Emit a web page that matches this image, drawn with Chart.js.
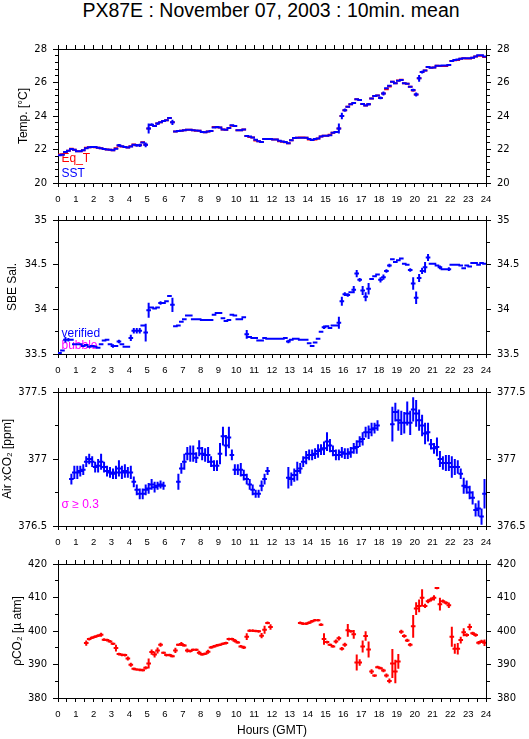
<!DOCTYPE html>
<html>
<head>
<meta charset="utf-8">
<title>PX87E : November 07, 2003 : 10min. mean</title>
<script src="https://cdn.jsdelivr.net/npm/chart.js@4.4.0/dist/chart.umd.min.js"></script>
<style>
  html, body { margin: 0; padding: 0; background: #fff; }
  #page { position: relative; width: 529px; height: 739px; overflow: hidden; }
  #title { position: absolute; left: 0; top: 0; width: 542px; text-align: center;
           font: 19.5px/20px 'Liberation Sans', Arial, sans-serif; color: #000; }
  canvas { position: absolute; left: 0; }
</style>
</head>
<body>
<div id="page">
  <div id="title">PX87E : November 07, 2003 : 10min. mean</div>
  <canvas id="temp" width="529" height="168" style="top:37px"></canvas>
  <canvas id="sal" width="529" height="168" style="top:208px"></canvas>
  <canvas id="xco2" width="529" height="168" style="top:380px"></canvas>
  <canvas id="pco2" width="529" height="186" style="top:552px"></canvas>
</div>
<script>
// 10-minute bin centres, hours (GMT)
const hours = Array.from({ length: 144 }, (_, i) => (i + 0.5) / 6);

// Temperature [°C]
const sst = [
  21.66, 21.68, 21.85, 21.92, 22.03, 21.98, 21.90, 21.90, 21.95, 22.08, 22.13, 22.15,
  22.15, 22.10, 22.07, 22.03, 22.00, 21.98, 21.95, 22.05, 22.25, 22.20, 22.15, 22.12,
  22.18, 22.28, 22.25, 22.25, 22.42, 22.28, 23.25, 23.48, 23.40, 23.55, 23.62, 23.70,
  23.74, 23.88, 23.62, 23.08, 23.10, 23.12, 23.15, 23.18, 23.18, 23.15, 23.14, 23.12,
  23.05, 23.03, 23.07, 23.10, 23.32, 23.35, 23.32, 23.20, 23.18, 23.28, 23.45, 23.40,
  23.15, 23.15, 23.20, 22.80, 22.78, 22.72, 22.58, 22.50, 22.45, 22.62, 22.62, 22.62,
  22.60, 22.60, 22.52, 22.48, 22.45, 22.38, 22.55, 22.68, 22.70, 22.70, 22.70, 22.70,
  22.62, 22.57, 22.62, 22.65, 22.78, 22.82, 22.82, 22.85, 23.00, 23.05, 23.25, 24.00,
  24.35, 24.55, 24.70, 24.78, 25.00, 24.95, 24.72, 24.62, 24.70, 25.05, 25.20, 25.22,
  25.08, 25.35, 25.65, 25.80, 26.05, 25.95, 26.10, 26.15, 25.95, 25.92, 25.75, 25.55,
  25.28, 26.25, 26.62, 26.72, 26.93, 26.88, 26.90, 27.00, 27.00, 27.02, 27.02, 27.05,
  27.28, 27.35, 27.38, 27.42, 27.45, 27.45, 27.45, 27.48, 27.55, 27.62, 27.62, 27.55
];
const sstErr = [
  .05, .05, .06, .05, .06, .05, .05, .05, .05, .06, .05, .05,
  .05, .05, .05, .05, .05, .05, .05, .06, .08, .05, .05, .05,
  .06, .05, .08, .10, .06, .14, .30, .08, .06, .08, .06, .06,
  .05, .04, .15, .06, .05, .05, .05, .05, .05, .05, .05, .05,
  .05, .05, .05, .05, .05, .05, .05, .05, .05, .06, .05, .05,
  .06, .06, .05, .06, .05, .06, .05, .05, .05, .05, .05, .05,
  .05, .05, .05, .05, .05, .06, .05, .05, .05, .05, .05, .05,
  .05, .06, .05, .05, .05, .05, .05, .05, .06, .06, .30, .20,
  .10, .06, .06, .05, .06, .05, .06, .06, .08, .06, .05, .05,
  .08, .12, .06, .06, .06, .05, .05, .05, .05, .05, .06, .08,
  .12, .20, .08, .06, .05, .05, .05, .05, .05, .05, .05, .05,
  .06, .05, .05, .05, .05, .05, .05, .05, .05, .05, .05, .05
];
const eqT = [
  21.70, 21.72, 21.85, 21.92, 22.05, 21.98, 21.90, 21.90, 21.95, 22.10, 22.13, 22.15,
  22.13, 22.10, 22.07, 22.03, 22.00, 21.98, 21.95, 22.08, 22.22, 22.18, 22.15, 22.12,
  22.20, 22.30, 22.25, 22.25, 22.44, 22.28, 23.25, 23.46, 23.40, 23.55, 23.62, 23.70,
  23.74, 23.88, 23.62, 23.08, 23.10, 23.12, 23.15, 23.18, 23.18, 23.15, 23.12, 23.12,
  23.05, 23.03, 23.07, 23.10, 23.34, 23.33, 23.32, 23.20, 23.18, 23.28, 23.42, 23.40,
  23.15, 23.15, 23.20, 22.80, 22.75, 22.72, 22.54, 22.50, 22.45, 22.62, 22.62, 22.62,
  22.60, 22.60, 22.50, 22.46, 22.43, 22.38, 22.55, 22.68, 22.70, 22.72, 22.72, 22.70,
  22.60, 22.57, 22.60, 22.65, 22.78, 22.82, 22.82, 22.88, 23.00, 23.05, 23.25, 24.00,
  24.35, 24.55, 24.70, 24.78, 25.00, 24.95, 24.72, 24.62, 24.70, 25.05, 25.20, 25.22,
  25.08, 25.35, 25.60, 25.76, 26.05, 25.95, 26.12, 26.17, 25.95, 25.92, 25.75, 25.52,
  25.28, 26.25, 26.62, 26.72, 26.93, 26.88, 26.90, 27.00, 26.98, 26.98, 26.98, 27.05,
  27.28, 27.33, 27.35, 27.42, 27.45, 27.43, 27.43, 27.48, 27.55, 27.60, 27.60, 27.52
];

// SBE salinity
const sal = [
  33.51, 33.54, 33.66, 33.66, 33.66, 33.61, 33.61, 33.61, 33.59, 33.60, 33.58, 33.59,
  33.58, 33.57, 33.61, 33.65, 33.66, 33.61, 33.59, 33.59, 33.64, 33.61, 33.58, 33.58,
  33.68, 33.76, 33.76, 33.76, 33.82, 33.74, 33.99, 34.02, 34.01, 34.02, 34.07, 34.07,
  34.09, 34.15, 34.05, 33.81, 33.82, 33.86, 33.89, 33.93, 33.93, 33.89, 33.89, 33.89,
  33.88, 33.88, 33.88, 33.88, 33.94, 33.96, 33.96, 33.90, 33.87, 33.88, 33.94, 33.93,
  33.89, 33.89, 33.91, 33.72, 33.69, 33.68, 33.68, 33.65, 33.65, 33.68, 33.67, 33.67,
  33.67, 33.67, 33.67, 33.67, 33.68, 33.64, 33.66, 33.67, 33.67, 33.66, 33.66, 33.66,
  33.62, 33.59, 33.63, 33.67, 33.75, 33.80, 33.81, 33.79, 33.82, 33.82, 33.85, 34.09,
  34.17, 34.16, 34.19, 34.22, 34.40, 34.33, 34.21, 34.14, 34.23, 34.34, 34.37, 34.39,
  34.33, 34.36, 34.43, 34.49, 34.56, 34.53, 34.55, 34.57, 34.51, 34.50, 34.44, 34.29,
  34.13, 34.35, 34.43, 34.47, 34.58, 34.51, 34.51, 34.49, 34.47, 34.45, 34.45, 34.45,
  34.50, 34.50, 34.50, 34.49, 34.46, 34.49, 34.48, 34.52, 34.52, 34.50, 34.52, 34.51
];
const salErr = [
  .01, .01, .03, .02, .01, .01, .01, .01, .01, .01, .01, .01,
  .01, .01, .01, .01, .01, .01, .02, .01, .02, .01, .01, .01,
  .035, .03, .03, .03, .01, .10, .085, .01, .01, .01, .02, .01,
  .01, .01, .08, .01, .01, .01, .01, .01, .01, .01, .01, .01,
  .01, .01, .01, .01, .01, .01, .01, .01, .01, .01, .01, .01,
  .01, .01, .01, .05, .01, .01, .01, .01, .01, .01, .01, .01,
  .01, .01, .01, .01, .01, .02, .01, .01, .01, .01, .01, .01,
  .01, .01, .01, .01, .01, .02, .01, .01, .01, .01, .067, .05,
  .02, .02, .01, .04, .04, .02, .05, .05, .065, .01, .01, .01,
  .03, .03, .02, .02, .01, .01, .01, .01, .01, .01, .02, .07,
  .07, .045, .035, .06, .04, .01, .01, .01, .02, .01, .01, .02,
  .01, .01, .01, .01, .01, .01, .01, .01, .01, .01, .01, .01
];

// Air xCO2 [ppm]
const xco2 = [
  null, null, null, null, 376.85, 376.90, 376.90, 376.91, 376.92, 376.98, 377.00, 376.98,
  376.94, 376.95, 376.98, 376.94, 376.91, 376.90, 376.89, 376.90, 376.93, 376.90, 376.91, 376.90,
  376.90, 376.83, 376.77, 376.74, 376.74, 376.77, 376.78, 376.81, 376.79, 376.80, 376.81, 376.80,
  null, null, null, null, 376.83, 376.93, 376.98, 377.04, 377.04, 377.04, 377.01, 377.08,
  377.04, 377.03, 377.03, 376.98, 376.95, 376.95, 377.04, 377.17, 377.10, 377.16, 377.03, 376.92,
  376.92, 376.92, 376.88, 376.85, 376.81, 376.77, 376.74, 376.74, 376.80, 376.85, 376.91, null,
  null, null, null, null, null, 376.86, 376.85, 376.88, 376.91, 376.93, 376.98, 377.01,
  377.03, 377.03, 377.04, 377.06, 377.07, 377.08, 377.13, 377.10, 377.06, 377.03, 377.03, 377.05,
  377.04, 377.04, 377.05, 377.08, 377.09, 377.13, 377.15, 377.20, 377.20, 377.22, 377.23, 377.25,
  null, null, null, null, 377.26, 377.35, 377.29, 377.27, 377.27, 377.34, 377.27, 377.37,
  377.34, 377.29, 377.25, 377.19, 377.20, 377.11, 377.08, 377.09, 377.00, 376.97, 376.97, 376.97,
  376.94, 376.94, 376.94, 376.89, 376.80, 376.79, 376.75, 376.71, 376.62, 376.63, 376.57, 376.74
];
const xco2Err = [
  0, 0, 0, 0, .04, .05, .05, .04, .04, .04, .04, .04,
  .04, .05, .06, .04, .04, .04, .04, .05, .06, .05, .05, .04,
  .05, .04, .04, .04, .04, .04, .04, .04, .04, .03, .03, .03,
  0, 0, 0, 0, .06, .04, .06, .05, .06, .06, .04, .06,
  .05, .05, .06, .04, .04, .04, .08, .07, .08, .08, .04, .04,
  .04, .05, .04, .04, .04, .04, .03, .03, .04, .04, .03, 0,
  0, 0, 0, 0, 0, .08, .05, .05, .07, .04, .04, .05,
  .04, .04, .04, .05, .04, .05, .07, .05, .04, .04, .04, .04,
  .04, .04, .04, .04, .05, .04, .05, .04, .05, .05, .04, .04,
  0, 0, 0, 0, .13, .07, .08, .09, .08, .09, .09, .09,
  .10, .08, .08, .08, .07, .04, .04, .07, .06, .05, .06, .06,
  .08, .06, .05, .04, .06, .05, .05, .05, .05, .06, .06, .11
];

// pCO2 [µatm]
const pco2 = [
  null, null, null, null, null, null, null, null, null, 396.4, 397.6, 398.0,
  398.3, 398.6, 398.9, 397.4, 397.3, 396.9, 396.2, 394.9, 393.1, 392.9, 392.8, 391.8,
  389.9, 388.7, 388.5, 388.4, 388.3, 389.0, 390.3, 393.7, 393.0, 394.2, 395.9, 393.5,
  392.8, 392.8, 392.5, 394.2, 395.9, 396.1, 395.7, 394.2, 394.0, 394.4, 394.4, 393.5,
  393.0, 393.2, 393.8, 395.1, 395.4, 395.7, 395.9, 396.2, 396.4, 397.6, 397.6, 397.1,
  396.6, 395.4, 395.1, 398.3, 400.1, 400.1, 400.0, 399.9, 398.6, 400.4, 402.4, 401.2,
  null, null, null, null, null, null, null, null, null, 402.4, 402.2, 402.2,
  402.5, 402.9, 403.2, 403.2, 401.9, 397.6, 396.7, 395.9, 395.4, 396.9, 397.8, 394.7,
  395.9, 400.2, 399.9, 399.0, 390.6, 390.6, 395.4, 398.5, 394.5, 387.9, 386.7, 389.2,
  388.9, 388.2, 386.7, 385.1, 390.3, 387.9, 390.9, 399.8, 398.5, 397.2, 395.9, 401.4,
  406.7, 407.5, 409.9, 407.5, 408.9, 409.4, 409.9, 412.8, 408.0, 408.9, 408.4, 407.7,
  398.3, 394.7, 394.7, 397.3, 399.6, 398.8, 401.2, 399.3, 398.8, 396.5, 396.9, 396.5
];
const pco2Err = [
  0, 0, 0, 0, 0, 0, 0, 0, 0, .8, .4, .4,
  .4, .4, .6, .4, .4, .4, .4, 1.0, .4, .4, .4, .6,
  .6, .4, .4, .4, .4, .5, 1.5, .8, .9, .9, .6, .4,
  .4, .4, .4, .8, .4, .6, .4, .6, .4, .4, .4, .6,
  .4, .4, .6, .4, .4, .4, .4, .4, .4, .4, .4, .5,
  .4, .4, .5, 1.0, .4, .4, .4, .4, .8, 1.2, .4, .8,
  0, 0, 0, 0, 0, 0, 0, 0, 0, .4, .4, .4,
  .4, .4, .4, .4, .4, 1.7, .4, .4, .4, .6, .6, .5,
  .6, 1.9, .4, 1.3, 2.4, 1.0, 1.8, 1.4, 2.4, .7, .4, .4,
  .4, .5, .6, .7, 4.3, 3.5, 2.2, .6, .5, .5, .5, 3.4,
  1.9, 1.9, 2.6, .6, .6, .6, .8, .3, 1.9, .5, .5, .8,
  3.0, 1.5, 1.7, 1.0, 1.2, .5, 1.0, .5, .5, .5, .5, 1.0
];

const FONT = "'Liberation Sans', Arial, sans-serif";
const TICK_FONT = "'DejaVu Sans', sans-serif";
const BLUE = '#0000ff';
const RED = '#ff0000';
const MAGENTA = '#ff00ff';
const HALF_BIN = 0.13; // half width of the horizontal bar, hours

Chart.defaults.color = '#000';

function points(values, errs) {
  return values.map((v, i) => ({ x: hours[i], y: v, e: errs ? errs[i] : 0 }));
}

// each 10-min mean drawn as a cross: time bar + error bar
const crosses = {
  id: 'crosses',
  afterDatasetsDraw(chart) {
    const { ctx, chartArea: a, scales: { x, y } } = chart;
    ctx.save();
    ctx.beginPath();
    ctx.rect(a.left, a.top, a.right - a.left, a.bottom - a.top);
    ctx.clip();
    ctx.lineWidth = 2;
    chart.data.datasets.forEach(ds => {
      ctx.strokeStyle = ds.borderColor;
      ctx.beginPath();
      ds.data.forEach(p => {
        if (p.y === null) return;
        const py = y.getPixelForValue(p.y);
        ctx.moveTo(x.getPixelForValue(p.x - HALF_BIN), py);
        ctx.lineTo(x.getPixelForValue(p.x + HALF_BIN), py);
        if (p.e) {
          const px = x.getPixelForValue(p.x);
          ctx.moveTo(px, y.getPixelForValue(p.y + p.e));
          ctx.lineTo(px, y.getPixelForValue(p.y - p.e));
        }
      });
      ctx.stroke();
    });
    ctx.restore();
  }
};

function makeNotes(items) {
  return {
    id: 'notes',
    beforeDatasetsDraw(chart) {
      const { ctx, chartArea: a } = chart;
      ctx.save();
      ctx.font = '12px ' + FONT;
      ctx.textBaseline = 'alphabetic';
      items.forEach(n => {
        ctx.fillStyle = n.color;
        ctx.fillText(n.text, a.left + 3.5, a.bottom - n.up);
      });
      ctx.restore();
    }
  };
}

function hourAxis(position, title) {
  const bottom = position === 'bottom';
  return {
    type: 'linear', axis: 'x', position, min: 0, max: 24,
    border: { display: true, color: '#000', width: 1 },
    grid: { drawOnChartArea: false, drawTicks: true, tickLength: 4, tickColor: '#000' },
    ticks: {
      display: bottom, stepSize: 0.5, autoSkip: false, maxRotation: 0, minRotation: 0,
      padding: 7, font: { family: FONT, size: 9.5 },
      callback: v => Number.isInteger(v) ? String(v) : ''
    },
    title: title
      ? { display: true, text: title, font: { family: FONT, size: 12 }, padding: { top: 0, bottom: 0 } }
      : { display: false },
    afterFit(s) { s.height = bottom ? (title ? 40 : 22) : 8; }
  };
}

function valueAxis(position, o) {
  const left = position === 'left';
  const isMajor = v => Math.abs(v / o.major - Math.round(v / o.major)) < 1e-6;
  return {
    type: 'linear', axis: 'y', position, min: o.min, max: o.max,
    border: { display: true, color: '#000', width: 1 },
    grid: {
      drawOnChartArea: false, drawTicks: true, tickLength: 5, tickColor: '#000',
      tickBorderDash: c => isMajor(c.tick.value) ? [] : (left ? [0, 2, 3, 20] : [3, 20])
    },
    ticks: {
      stepSize: o.step, autoSkip: false, padding: 6,
      font: { family: TICK_FONT, size: 10 },
      callback: v => isMajor(v) ? String(Math.round(v * 100) / 100) : ''
    },
    title: left
      ? { display: true, text: o.title, font: { family: FONT, size: 12 }, padding: { top: o.titlePad, bottom: 0 } }
      : { display: false },
    afterFit(s) { s.width = left ? 58 : 43; }
  };
}

function panel(id, o) {
  return new Chart(document.getElementById(id), {
    type: 'scatter',
    data: {
      datasets: o.datasets.map(d => ({ ...d, showLine: false, pointRadius: 0, pointHoverRadius: 0 }))
    },
    options: {
      responsive: false,
      animation: false,
      devicePixelRatio: 1,
      layout: { padding: 0, autoPadding: false },
      plugins: { legend: { display: false }, tooltip: { enabled: false } },
      scales: {
        x: hourAxis('bottom', o.xTitle),
        x2: hourAxis('top'),
        y: valueAxis('left', o),
        y2: valueAxis('right', o)
      }
    },
    plugins: [crosses, makeNotes(o.notes || [])]
  });
}

panel('temp', {
  min: 20, max: 28, step: 0.4, major: 2, title: 'Temp. [°C]', titlePad: 16.5,
  datasets: [
    { label: 'Eq_T', data: points(eqT), borderColor: RED },
    { label: 'SST', data: points(sst, sstErr), borderColor: BLUE }
  ],
  notes: [
    { text: 'Eq_T', color: RED, up: 21 },
    { text: 'SST', color: BLUE, up: 6.3 }
  ]
});

panel('sal', {
  min: 33.5, max: 35, step: 0.25, major: 0.5, title: 'SBE Sal.', titlePad: 5.5,
  datasets: [
    { label: 'SBE Sal.', data: points(sal, salErr), borderColor: BLUE }
  ],
  notes: [
    { text: 'verified', color: BLUE, up: 17.3 },
    { text: 'bubble', color: MAGENTA, up: 4.7 }
  ]
});

panel('xco2', {
  min: 376.5, max: 377.5, step: 0.25, major: 0.5, title: 'Air xCO₂ [ppm]', titlePad: 0,
  datasets: [
    { label: 'Air xCO2', data: points(xco2, xco2Err), borderColor: BLUE }
  ],
  notes: [
    { text: 'σ ≥ 0.3', color: MAGENTA, up: 17.7 }
  ]
});

panel('pco2', {
  min: 380, max: 420, step: 5, major: 10, title: 'ρCO₂ [µ atm]', titlePad: 10,
  xTitle: 'Hours (GMT)',
  datasets: [
    { label: 'pCO2', data: points(pco2, pco2Err), borderColor: RED }
  ]
});
</script>
</body>
</html>
